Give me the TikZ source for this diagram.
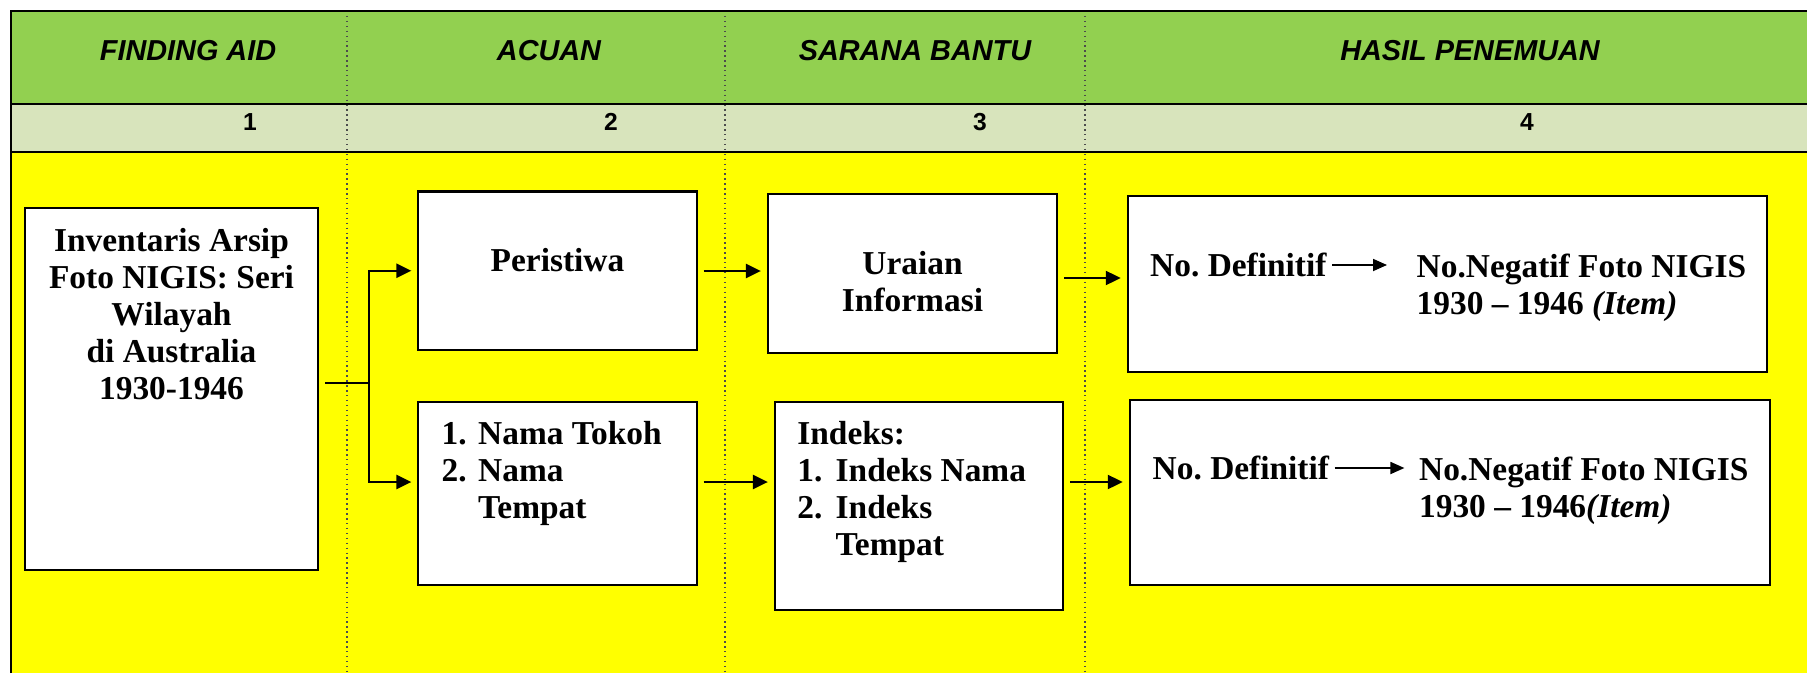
\documentclass[tikz,border=0pt]{standalone}
\usepackage{fontspec}
\setmainfont{Liberation Serif}
\setsansfont{Liberation Sans}
\usepackage{tikz}
\usetikzlibrary{arrows.meta}
\usetikzlibrary{calc, positioning}
\definecolor{hdrgreen}{HTML}{92D050}
\definecolor{numgrey}{HTML}{D8E4BC}
\definecolor{bodyyellow}{HTML}{FFFF00}
\begin{document}
\begin{tikzpicture}[x=0.01cm, y=-0.01cm]
      \tikzset{box/.style = {shape=rectangle, draw, line width=0.6pt, fill=white, inner sep=0pt}}
      \tikzset{txt/.style = {inner sep=0pt, font=\bfseries\fontsize{9.5}{10.5}\selectfont}}
      \tikzset{hdr/.style = {inner sep=0pt, font=\sffamily\bfseries\itshape\fontsize{8.2}{9}\selectfont}}
      \tikzset{num/.style = {inner sep=0pt, font=\sffamily\bfseries\fontsize{7}{8}\selectfont}}
      \tikzset{edge/.style = {line width=0.65pt, -{Triangle[length=1.5mm, width=1.4mm]}, shorten >=0.6mm}}
      \tikzset{ptr/.style = {line width=0.5pt, -{Triangle[length=1.4mm, width=1.2mm]}}}
      \tikzset{sep/.style = {densely dotted, line width=0.4pt, black!70}}
      \useasboundingbox (0,0) rectangle (1807,673);
      \fill[hdrgreen] (11,11) rectangle (1807,104);
      \fill[numgrey] (11,104) rectangle (1807,152);
      \fill[bodyyellow] (11,152) rectangle (1807,673);
      \foreach \x in {347,725,1085}
        \draw[sep] (\x,11) -- (\x,673);
      \draw[line width=0.6pt] (11,673) -- (11,11) -- (1807,11);
      \draw[line width=0.6pt] (11,104) -- (1807,104);
      \draw[line width=0.6pt] (11,152) -- (1807,152);
      \node[hdr] (h1) at (188,51) {FINDING AID};
      \node[hdr] (h2) at (549,51) {ACUAN};
      \node[hdr] (h3) at (915,51) {SARANA BANTU};
      \node[hdr] (h4) at (1470,51) {HASIL PENEMUAN};
      \node[num] (n1) at (250,122) {1};
      \node[num] (n2) at (611,122) {2};
      \node[num] (n3) at (980,122) {3};
      \node[num] (n4) at (1527,122) {4};
      \node[box, minimum width=2.93cm, minimum height=3.62cm] (inv) at (171.5,389) {};
      \node[box, minimum width=2.78cm, minimum height=1.585cm] (peris) at (557.5,270.75) {};
      \node[box, minimum width=2.78cm, minimum height=1.83cm] (tokoh) at (557.5,493.5) {};
      \node[box, minimum width=2.89cm, minimum height=1.59cm] (uraian) at (912.5,273.5) {};
      \node[box, minimum width=2.88cm, minimum height=2.08cm] (indeks) at (919,506) {};
      \node[box, minimum width=6.39cm, minimum height=1.763cm] (hasilA) at (1447.5,283.85) {};
      \node[box, minimum width=6.394cm, minimum height=1.85cm] (hasilB) at (1449.7,492.5) {};
      \node[txt, align=center, anchor=north] (invtxt) at (171.5,228) {Inventaris Arsip\\Foto NIGIS: Seri\\Wilayah\\di Australia\\1930-1946};
      \node[txt] (peristxt) at (557.5,260) {Peristiwa};
      \node[txt, align=left, anchor=north west] (tokohtxt) at (441,421) {\makebox[3.65mm][l]{1.}Nama Tokoh\\\makebox[3.65mm][l]{2.}Nama\\\hspace*{3.65mm}Tempat};
      \node[txt, align=center, anchor=north] (uraiantxt) at (912.5,251) {Uraian\\Informasi};
      \node[txt, align=left, anchor=north west] (indekstxt) at (796.7,421) {Indeks:\\\makebox[3.83mm][l]{1.}Indeks Nama\\\makebox[3.83mm][l]{2.}Indeks\\\hspace*{3.83mm}Tempat};
      \node[txt, anchor=west] (defA) at (1149.5,265) {No.\ Definitif};
      \node[txt, align=left, anchor=north west] (negA) at (1416,253) {No.Negatif Foto NIGIS\\1930 \textendash{} 1946 \textit{(Item)}};
      \node[txt, anchor=west] (defB) at (1152,468) {No.\ Definitif};
      \node[txt, align=left, anchor=north west] (negB) at (1418.4,456) {No.Negatif Foto NIGIS\\1930 \textendash{} 1946\textit{(Item)}};
      \coordinate (fork) at (369,383);
      \coordinate (rowA) at (0,271);
      \coordinate (rowB) at (0,278);
      \coordinate (rowC) at (0,482);
      \draw[line width=0.65pt, shorten <=0.6mm] (inv.east |- fork) to (fork);
      \draw[edge] (fork) |- (peris.west);
      \draw[edge] (fork) |- (tokoh.west |- rowC);
      \draw[edge, shorten <=0.6mm] (peris.east |- rowA) to (uraian.west |- rowA);
      \draw[edge, shorten <=0.6mm] (tokoh.east |- rowC) to (indeks.west |- rowC);
      \draw[edge, shorten <=0.6mm] (uraian.east |- rowB) to (hasilA.west |- rowB);
      \draw[edge, shorten <=0.6mm] (indeks.east |- rowC) to (hasilB.west |- rowC);
      \draw[ptr, shorten <=0.5mm, shorten >=2.9mm] (defA.east) to (defA.east -| negA.west);
      \draw[ptr, shorten <=0.5mm, shorten >=1.4mm] (defB.east) to (defB.east -| negB.west);
\end{tikzpicture}
\end{document}
